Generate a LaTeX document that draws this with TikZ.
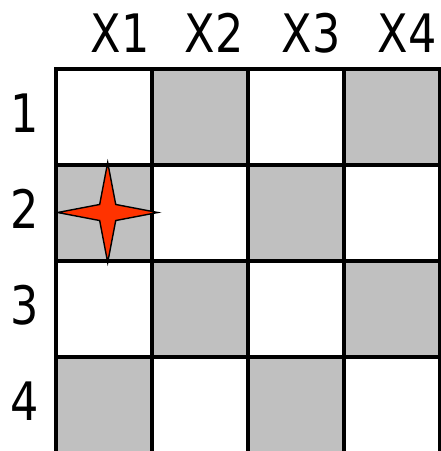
\documentclass[tikz,border=0pt]{standalone}
\usepackage{fontspec}
\setmainfont{DejaVu Sans}
\usepackage{tikz}
\usetikzlibrary{shapes.geometric}
\definecolor{gris}{HTML}{C0C0C0}
\definecolor{rojo}{HTML}{FF3300}
\tikzset{
  casilla/.style={rectangle,draw=black,fill=white,line width=3.2pt,minimum size=96pt,inner sep=0pt},
  casillagris/.style={casilla,fill=gris},
  etiqueta/.style={font=\fontsize{53}{60}\selectfont,inner sep=0pt,anchor=base,xscale=0.84},
  estrella/.style={star,star points=4,star point ratio=4.4,minimum size=100pt,inner sep=0pt,draw=black,fill=rojo,line width=1.4pt},
}

\begin{document}
\begin{tikzpicture}[x=1pt,y=-1pt]
\useasboundingbox (0,0) rectangle (441,451);
\node[casilla] (c11) at (104,117) {};
\node[casillagris] (c12) at (200,117) {};
\node[casilla] (c13) at (296,117) {};
\node[casillagris] (c14) at (392,117) {};
\node[casillagris] (c21) at (104,213) {};
\node[casilla] (c22) at (200,213) {};
\node[casillagris] (c23) at (296,213) {};
\node[casilla] (c24) at (392,213) {};
\node[casilla] (c31) at (104,309) {};
\node[casillagris] (c32) at (200,309) {};
\node[casilla] (c33) at (296,309) {};
\node[casillagris] (c34) at (392,309) {};
\node[casillagris] (c41) at (104,405) {};
\node[casilla] (c42) at (200,405) {};
\node[casillagris] (c43) at (296,405) {};
\node[casilla] (c44) at (392,405) {};
\node[etiqueta] (x1) at (120,52) {X1};
\node[etiqueta] (x2) at (214,52) {X2};
\node[etiqueta] (x3) at (311,52) {X3};
\node[etiqueta] (x4) at (407,52) {X4};
\node[etiqueta] (f1) at (25,132) {1};
\node[etiqueta] (f2) at (25,228) {2};
\node[etiqueta] (f3) at (25,324) {3};
\node[etiqueta] (f4) at (25,420) {4};
\node[estrella] (pieza) at (107.7,212.5) {};
\end{tikzpicture}
\end{document}
